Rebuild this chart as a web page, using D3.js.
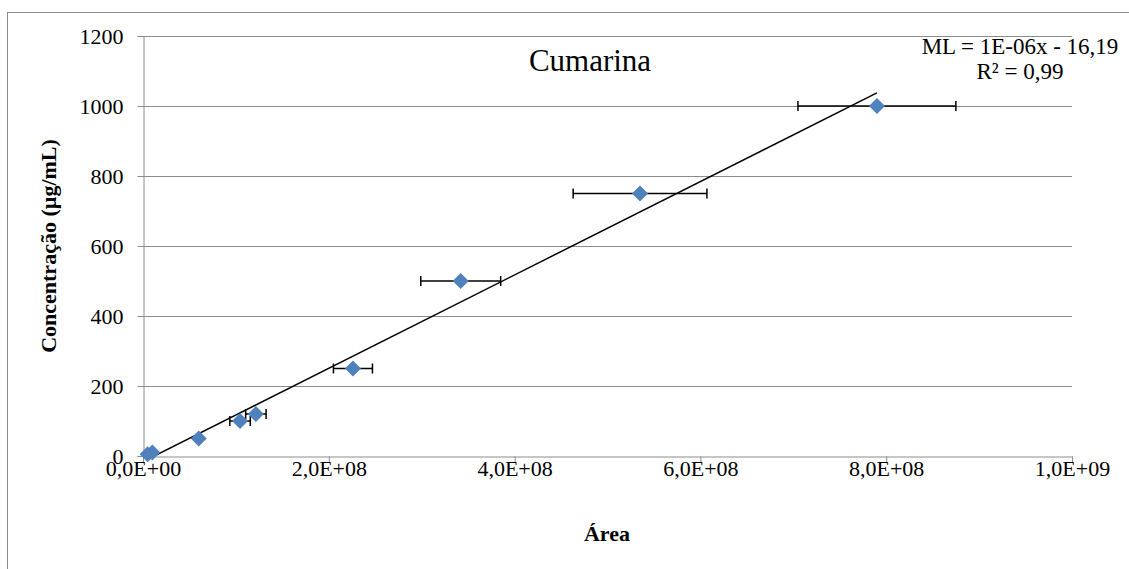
<!DOCTYPE html>
<html><head><meta charset="utf-8">
<script src="https://cdn.jsdelivr.net/npm/d3@7"></script>
<style>body{margin:0;background:#fff} text{font-family:'Liberation Serif','Times New Roman',serif}</style>
</head><body>
<svg id="c" width="1129" height="569"></svg>
<script>
const areas = [5e6, 1.0e7, 6.0e7, 1.045e8, 1.215e8, 2.26e8, 3.42e8, 5.35e8, 7.90e8];
const conc = [5, 10, 50, 100, 120, 250, 500, 750, 1000];
const areaErr = [0, 0, 0, 1.1e7, 1.1e7, 2.1e7, 4.3e7, 7.2e7, 8.5e7];
const xTicks = [0, 2e8, 4e8, 6e8, 8e8, 1e9];
const xTickLabels = ["0,0E+00", "2,0E+08", "4,0E+08", "6,0E+08", "8,0E+08", "1,0E+09"];
const yTicks = [0, 200, 400, 600, 800, 1000, 1200];
const slope = 1.334e-6, intercept = -16.19;
const trendRange = [5e6, 7.90e8];

const svg = d3.select("#c");
const m = {l:143, r:1072, t:36, b:456};
const x = d3.scaleLinear().domain([0, 1e9]).range([m.l, m.r]);
const y = d3.scaleLinear().domain([0, 1200]).range([m.b, m.t]);
const serif = "'Liberation Serif','Times New Roman',serif";

svg.append("rect").attr("x",7.5).attr("y",12.5).attr("width",1130).attr("height",570)
  .attr("fill","#fff").attr("stroke","#8c8c8c").attr("stroke-width",1);

// gridlines
svg.append("g").selectAll("line").data(yTicks.filter(d=>d>0)).join("line")
  .attr("x1",m.l).attr("x2",m.r).attr("y1",d=>Math.round(y(d))+0.5).attr("y2",d=>Math.round(y(d))+0.5)
  .attr("stroke","#8c8c8c").attr("stroke-width",1);

// y axis
const ya = svg.append("g").attr("transform",`translate(${m.l+0.5},0)`)
  .call(d3.axisLeft(y).tickValues(yTicks).tickSize(6).tickPadding(14).tickFormat(d3.format("d")));
ya.attr("font-family",null).attr("font-size",null);
ya.select(".domain").attr("stroke","#8c8c8c");
ya.selectAll(".tick line").attr("stroke","#8c8c8c");
ya.selectAll("text").style("font-family",serif).style("font-size","22px").attr("fill","#000");

// x axis
const xa = svg.append("g").attr("transform",`translate(0,${m.b+0.5})`)
  .call(d3.axisBottom(x).tickValues(xTicks).tickSize(6).tickFormat((d,i)=>xTickLabels[i]));
xa.attr("font-family",null).attr("font-size",null);
xa.select(".domain").attr("stroke","#8c8c8c");
xa.selectAll(".tick line").attr("stroke","#8c8c8c");
xa.selectAll("text").style("font-family",serif).style("font-size","22px").attr("fill","#000")
  .attr("y",19).attr("dy",0);

// trendline clipped to plot
svg.append("clipPath").attr("id","pc").append("rect")
  .attr("x",m.l).attr("y",m.t).attr("width",m.r-m.l).attr("height",m.b-m.t);
svg.append("line").attr("clip-path","url(#pc)")
  .attr("x1",x(trendRange[0])).attr("y1",y(slope*trendRange[0]+intercept))
  .attr("x2",x(trendRange[1])).attr("y2",y(slope*trendRange[1]+intercept))
  .attr("stroke","#000").attr("stroke-width",1.5);

// error bars
const eb = svg.append("g");
areas.forEach((a,i)=>{
  if(!areaErr[i]) return;
  const yy = y(conc[i]);
  eb.append("line").attr("x1",x(a-areaErr[i])).attr("x2",x(a+areaErr[i])).attr("y1",yy).attr("y2",yy)
    .attr("stroke","#000").attr("stroke-width",1.5);
  [a-areaErr[i], a+areaErr[i]].forEach(v=>{
    eb.append("line").attr("x1",x(v)).attr("x2",x(v)).attr("y1",yy-5).attr("y2",yy+5)
      .attr("stroke","#000").attr("stroke-width",1.5);
  });
});

// markers
svg.append("g").selectAll("path").data(areas).join("path")
  .attr("d","M0,-8L8,0L0,8L-8,0Z")
  .attr("transform",(d,i)=>`translate(${x(d)},${y(conc[i])})`)
  .attr("fill","#4F81BD");

// texts
svg.append("text").attr("x",590).attr("y",71).attr("text-anchor","middle")
  .style("font-size","31px").text("Cumarina");
svg.append("text").attr("x",1020).attr("y",54).attr("text-anchor","middle")
  .style("font-size","23px").text("ML = 1E-06x - 16,19");
svg.append("text").attr("x",1020).attr("y",79).attr("text-anchor","middle")
  .style("font-size","23px").text("R² = 0,99");
svg.append("text").attr("x",607).attr("y",541).attr("text-anchor","middle")
  .style("font-size","22px").attr("font-weight","bold").text("Área");
svg.append("text").attr("transform","translate(56,246) rotate(-90)").attr("text-anchor","middle")
  .style("font-size","22px").attr("font-weight","bold").text("Concentração (µg/mL)");
</script>
</body></html>
